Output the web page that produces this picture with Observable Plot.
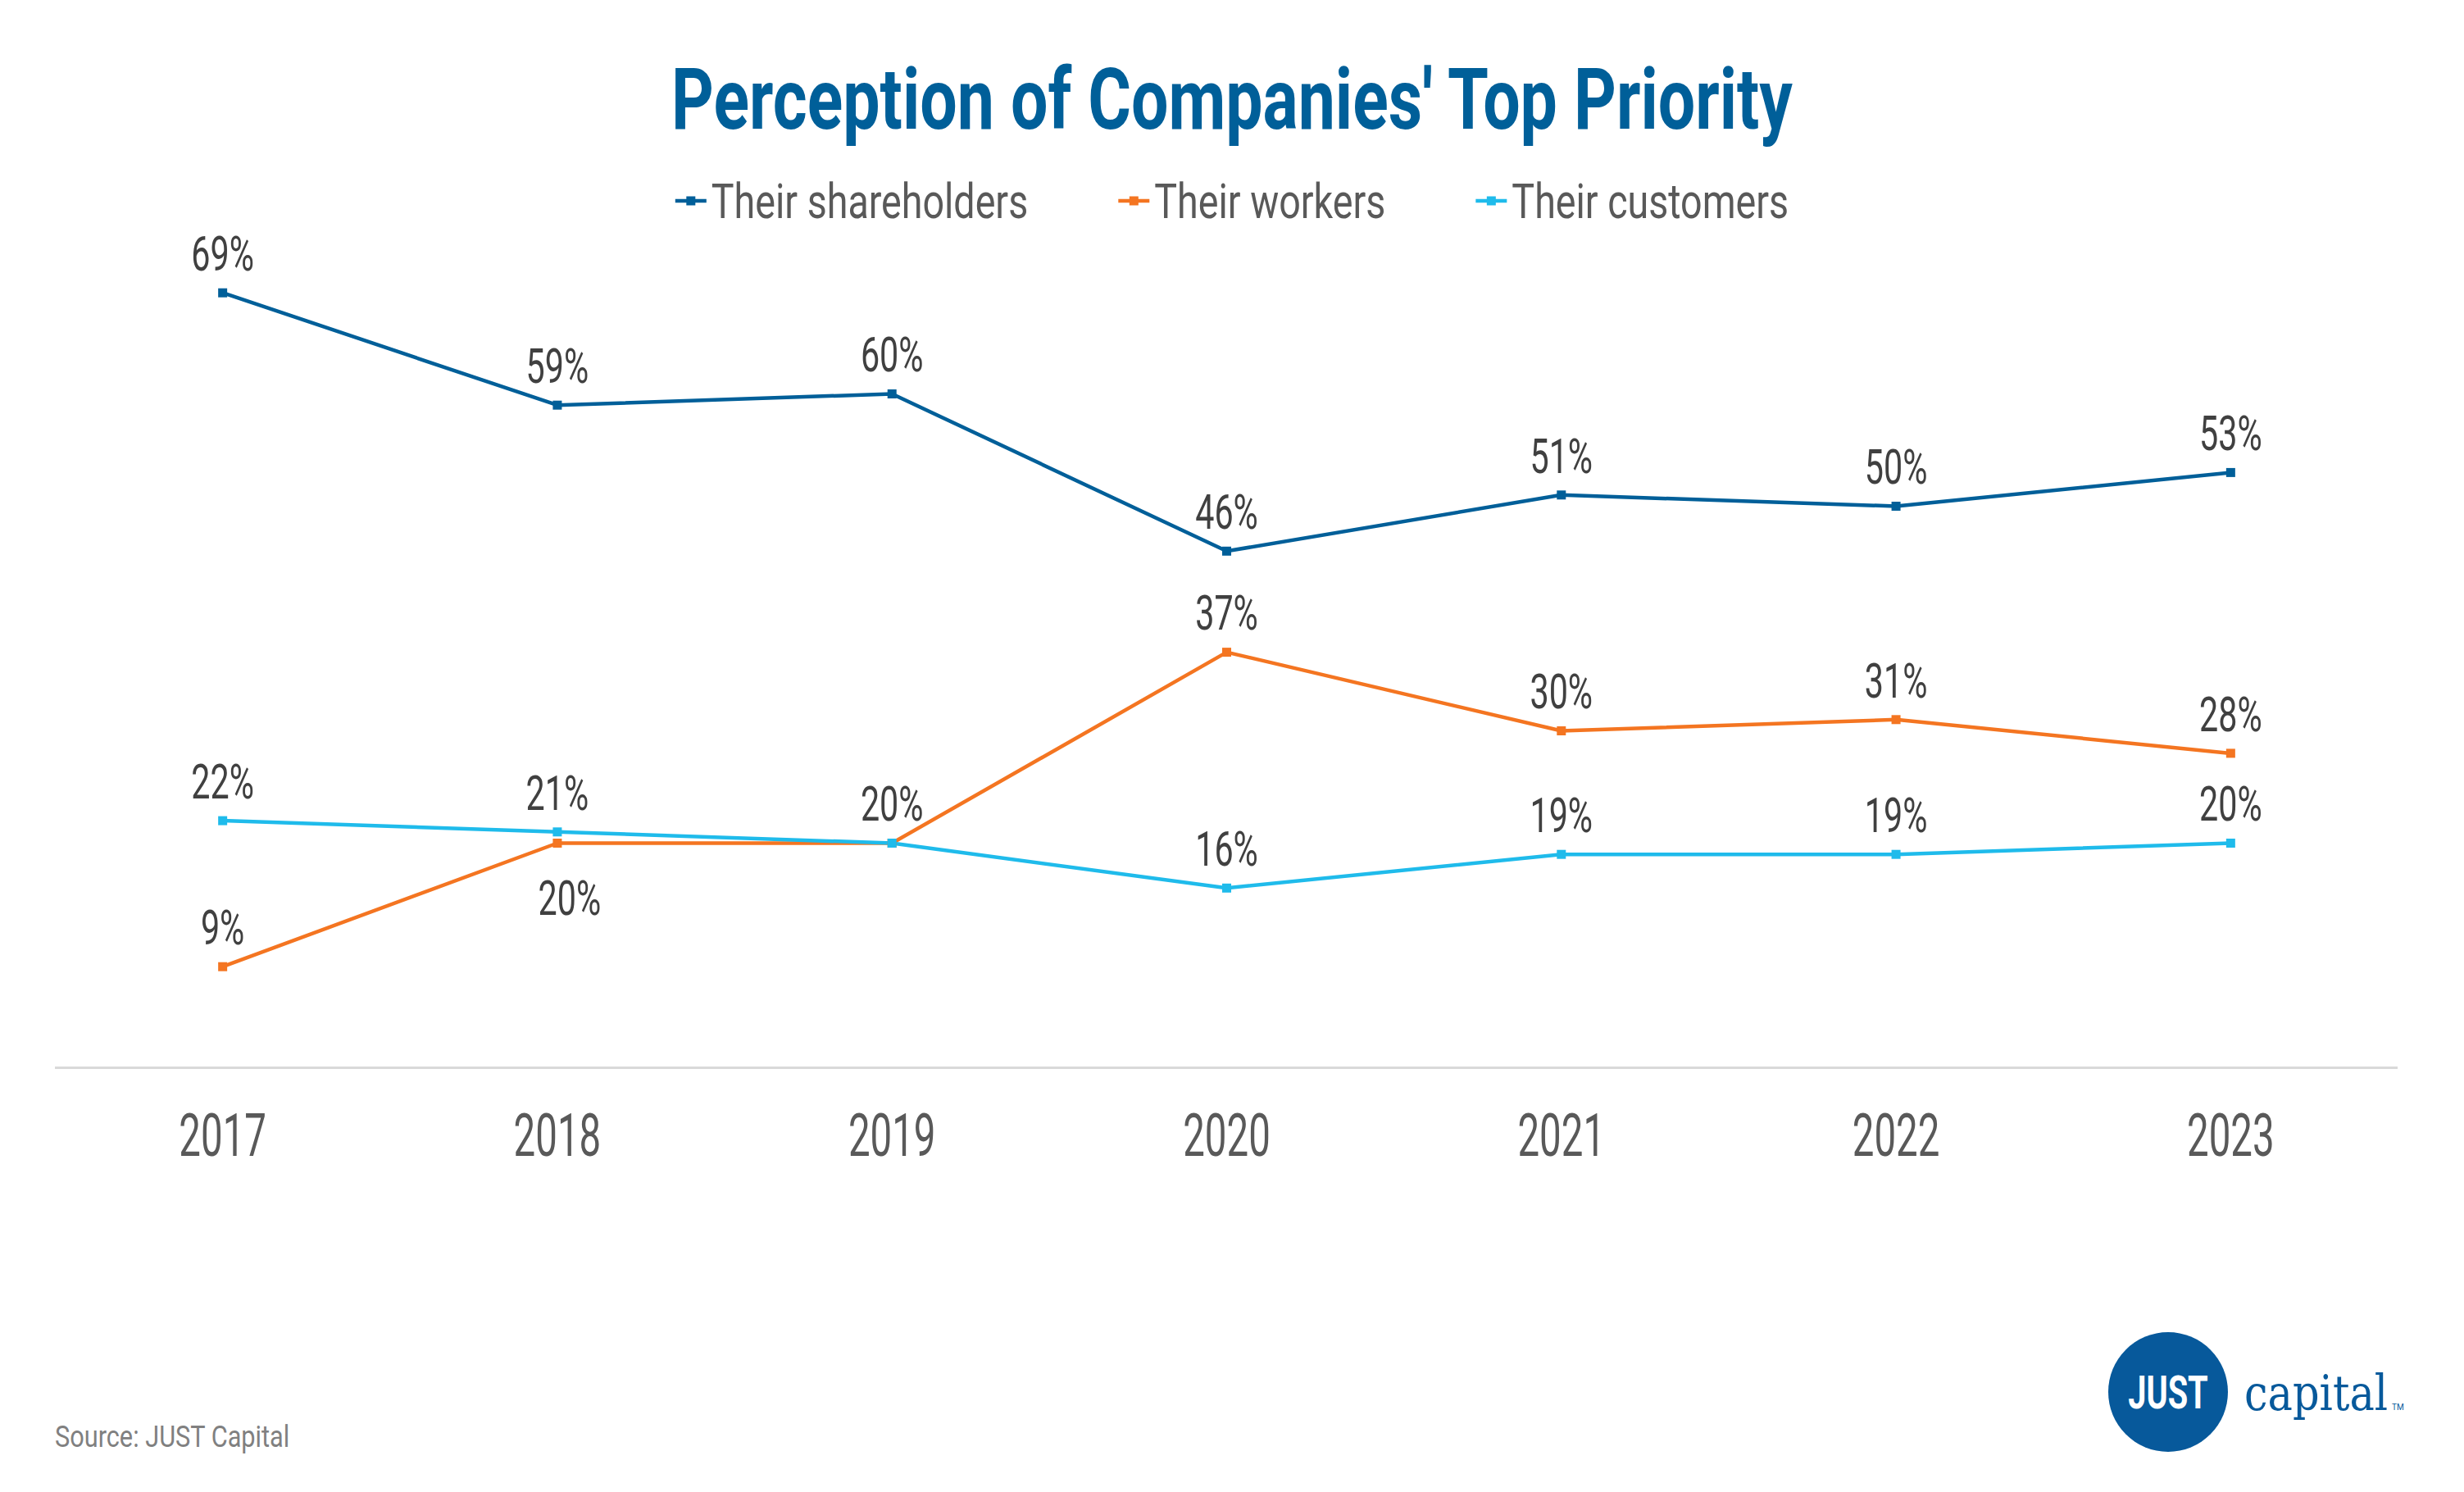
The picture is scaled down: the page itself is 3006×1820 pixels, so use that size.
<!DOCTYPE html>
<html><head><meta charset="utf-8">
<script src="https://cdn.jsdelivr.net/npm/d3@7"></script>
<script src="https://cdn.jsdelivr.net/npm/@observablehq/plot@0.6"></script>
<style>
html,body{margin:0;padding:0;background:#fff;}
#page{position:relative;width:3006px;height:1820px;overflow:hidden;background:#fff;font-family:Roboto,"Liberation Sans",sans-serif;}
#header{position:absolute;left:0;top:0;overflow:visible;}
#chart{position:absolute;left:0;top:268px;}
#footer{position:absolute;left:0;top:1500px;}
</style></head>
<body>
<div id="page">
<svg id="header" width="3006" height="290"></svg>
<div id="chart"></div>
<svg id="footer" width="3006" height="320"></svg>
</div>
<script>
// ---- data ----
const years = [2017, 2018, 2019, 2020, 2021, 2022, 2023];
const seriesNames = ["Their shareholders", "Their workers", "Their customers"];
const seriesColors = ["#005f99", "#f47521", "#1fbbeb"];
const shareholders = [69, 59, 60, 46, 51, 50, 53];
const workers = [9, 20, 20, 37, 30, 31, 28];
const customers = [22, 21, 20, 16, 19, 19, 20];
const titleText = "Perception of Companies' Top Priority";
const sourceText = "Source: JUST Capital";

const seriesValues = [shareholders, workers, customers];
const rows = [];
seriesNames.forEach((s, si) => years.forEach((y, i) => rows.push({series: s, year: y, value: seriesValues[si][i]})));

// workers 2018 label sits below its point; workers 2019 shares the customers label
const isBelow = d => d.series === "Their workers" && d.year === 2018;
const isHidden = d => d.series === "Their workers" && d.year === 2019;

const plot = Plot.plot({
  width: 3006, height: 1232,
  marginLeft: 67, marginRight: 81, marginTop: 75, marginBottom: 198,
  style: {fontFamily: "Roboto, sans-serif", background: "transparent"},
  x: {type: "linear", domain: [2016.5, 2023.5]},
  y: {domain: [0, 70], axis: null},
  color: {domain: seriesNames, range: seriesColors},
  marks: [
    Plot.ruleY([0], {stroke: "#d9d9d9", strokeWidth: 3}),
    Plot.axisX({ticks: years, tickFormat: d => String(d), tickSize: 0, tickPadding: 56, fontSize: 73, color: "#595959", label: null}),
    Plot.line(rows, {x: "year", y: "value", z: "series", stroke: "series", strokeWidth: 4.5}),
    Plot.dot(rows, {x: "year", y: "value", fill: "series", symbol: "square", r: 6.2}),
    Plot.text(rows.filter(d => !isBelow(d) && !isHidden(d)), {x: "year", y: "value", text: d => d.value + "%", dy: -46, fontSize: 59, fill: "#404040"}),
    Plot.text(rows.filter(isBelow), {x: "year", y: "value", text: d => d.value + "%", dy: 69, dx: 15, fontSize: 59, fill: "#404040"})
  ]
});
document.getElementById("chart").appendChild(plot);

function squeeze(el, s) {
  const x = +(el.getAttribute("x") || 0);
  const t = el.getAttribute("transform") || "";
  el.setAttribute("transform", `${t} translate(${x},0) scale(${s},1) translate(${-x},0)`);
}
plot.querySelectorAll('g[aria-label="x-axis tick label"] text').forEach(t => squeeze(t, 0.65));
plot.querySelectorAll('g[aria-label="text"] text').forEach(t => squeeze(t, 0.70));

// ---- header: title + legend ----
const header = d3.select("#header");
const title = header.append("text")
  .attr("x", 1503).attr("y", 157)
  .attr("text-anchor", "middle")
  .attr("font-family", "Roboto, sans-serif")
  .attr("font-weight", 700).attr("font-size", 104)
  .attr("fill", "#005f99")
  .text(titleText);
squeeze(title.node(), 0.775);

const legS = 0.79, markW = 38, markGap = 6, itemGap = 110, legY = 245;
const items = seriesNames.map((name, i) => {
  const g = header.append("g");
  const t = g.append("text").attr("y", legY + 21)
    .attr("font-family", "Roboto, sans-serif").attr("font-size", 59)
    .attr("fill", "#595959").text(name);
  const w = t.node().getComputedTextLength() * legS;
  return {g, t, w, color: seriesColors[i]};
});
const total = items.reduce((a, it) => a + markW + markGap + it.w, 0) + itemGap * (items.length - 1);
let cx = 1503 - total / 2;
items.forEach(it => {
  it.g.append("line").attr("x1", cx).attr("x2", cx + markW).attr("y1", legY).attr("y2", legY)
    .attr("stroke", it.color).attr("stroke-width", 4.5);
  it.g.append("rect").attr("x", cx + markW / 2 - 5.5).attr("y", legY - 5.5).attr("width", 11).attr("height", 11)
    .attr("fill", it.color);
  const tx = cx + markW + markGap;
  it.t.attr("x", tx);
  squeeze(it.t.node(), legS);
  cx = tx + it.w + itemGap;
});

// ---- footer: source + logo ----
const footer = d3.select("#footer");
const src = footer.append("text").attr("x", 67).attr("y", 265)
  .attr("font-family", "Roboto, sans-serif").attr("font-size", 37)
  .attr("fill", "#808080").text(sourceText);
squeeze(src.node(), 0.83);

const logoBlue = "#07599b";
footer.append("circle").attr("cx", 2645).attr("cy", 198).attr("r", 73).attr("fill", logoBlue);
const just = footer.append("text").attr("x", 2645).attr("y", 218)
  .attr("text-anchor", "middle").attr("font-family", "Roboto, sans-serif")
  .attr("font-weight", 700).attr("font-size", 56).attr("fill", "#fff").text("JUST");
squeeze(just.node(), 0.71);
const cap = footer.append("text").attr("x", 2738).attr("y", 220)
  .attr("font-family", "'DejaVu Serif', serif").attr("font-size", 60)
  .attr("fill", logoBlue).text("capital");
squeeze(cap.node(), 0.85);
footer.append("text").attr("x", 2918).attr("y", 220)
  .attr("font-family", "Roboto, sans-serif").attr("font-size", 10)
  .attr("fill", logoBlue).text("TM");
</script>
</body></html>
